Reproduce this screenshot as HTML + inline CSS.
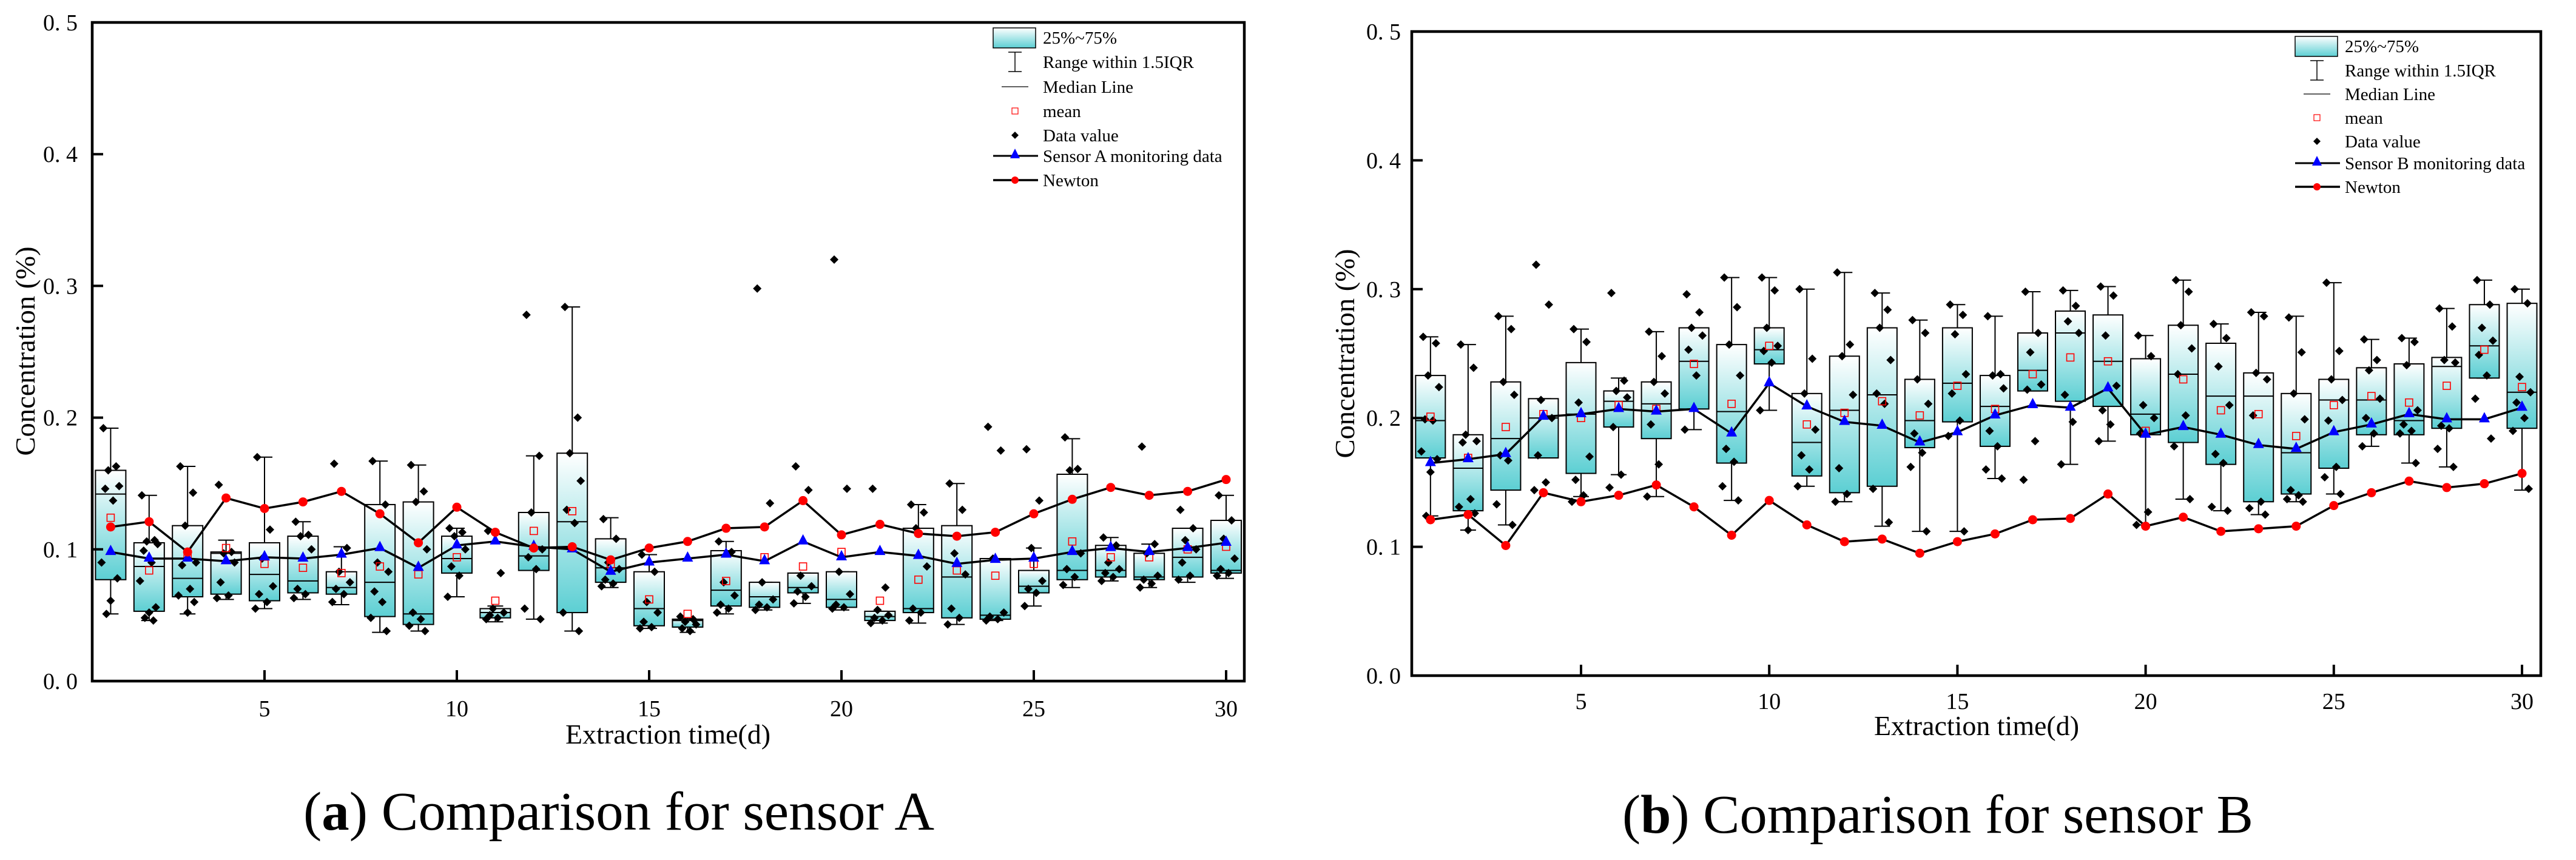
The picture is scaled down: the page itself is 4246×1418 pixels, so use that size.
<!DOCTYPE html>
<html><head><meta charset="utf-8"><style>
html,body{margin:0;padding:0;background:#fff;}
svg{display:block;}
text{font-family:"Liberation Serif",serif;fill:#000;}
</style></head><body>
<svg id="fig" width="4246" height="1418" viewBox="0 0 4246 1418" xmlns="http://www.w3.org/2000/svg">
<defs>
<linearGradient id="boxgrad" x1="0" y1="0" x2="0" y2="1">
<stop offset="0" stop-color="#ffffff"/><stop offset="1" stop-color="#5ccfd3"/>
</linearGradient>
</defs>
<g id="chartA"></g>
<g id="chartB"></g>
</svg>
<script>
// ---- Data: Sensor A chart ----
const days = [1,2,3,4,5,6,7,8,9,10,11,12,13,14,15,16,17,18,19,20,21,22,23,24,25,26,27,28,29,30];
const xTicks = [5,10,15,20,25,30];
const yTicks = [0,0.1,0.2,0.3,0.4,0.5];
const yTickLabels = ["0. 0","0. 1","0. 2","0. 3","0. 4","0. 5"];

const aQ1 = [.077,.053,.064,.066,.061,.067,.066,.049,.043,.082,.048,.084,.052,.075,.042,.041,.057,.056,.067,.056,.046,.052,.048,.047,.067,.077,.079,.077,.079,.082];
const aQ3 = [.160,.105,.118,.098,.105,.110,.083,.134,.136,.110,.055,.128,.173,.108,.083,.047,.099,.075,.082,.083,.053,.116,.118,.093,.084,.157,.103,.097,.116,.122];
const aMed = [.142,.087,.078,.097,.081,.076,.071,.075,.051,.093,.052,.095,.121,.086,.055,.046,.069,.064,.071,.062,.049,.055,.079,.050,.072,.084,.084,.079,.094,.084];
const aMean = [.124,.084,.096,.101,.089,.086,.082,.087,.081,.094,.061,.114,.129,.089,.062,.051,.076,.094,.087,.098,.061,.077,.084,.080,.089,.106,.094,.094,.100,.102];
const aLo = [.051,.046,.051,.062,.055,.062,.058,.037,.038,.064,.045,.047,.038,.071,.040,.037,.051,.054,.059,.054,.044,.044,.043,.046,.057,.071,.076,.071,.075,.078];
const aHi = [.192,.141,.163,.107,.170,.121,.102,.167,.164,.116,.057,.171,.284,.124,.096,.048,.106,.075,.082,.083,.053,.134,.150,.093,.101,.184,.109,.104,.116,.141];
const aSensor = [.098,.093,.093,.091,.094,.093,.096,.101,.086,.103,.106,.102,.100,.083,.090,.093,.096,.091,.106,.094,.098,.095,.089,.092,.093,.098,.101,.098,.101,.105];
const aNewton = [.117,.121,.098,.139,.131,.136,.144,.127,.105,.132,.113,.101,.102,.092,.101,.106,.116,.117,.137,.111,.119,.112,.110,.113,.127,.138,.147,.141,.144,.153];
const aPoints = [
[.192,.163,.160,.148,.146,.137,.090,.078,.061,.051],
[.141,.107,.106,.104,.099,.090,.076,.056,.052,.048,.046],
[.163,.143,.118,.090,.088,.070,.065,.060,.052],
[.149,.098,.097,.090,.075,.065,.063],
[.170,.115,.093,.072,.066,.060,.055],
[.121,.111,.110,.100,.070,.066,.063],
[.165,.101,.083,.075,.070,.066,.060],
[.167,.134,.090,.083,.068,.060,.048,.038],
[.164,.144,.136,.100,.052,.047,.042,.038],
[.116,.113,.110,.100,.087,.080,.064],
[.114,.082,.055,.052,.050,.048,.047],
[.278,.171,.128,.100,.094,.085,.055,.047],
[.284,.200,.173,.152,.130,.120,.052,.038],
[.123,.108,.090,.085,.077,.074,.072],
[.096,.083,.060,.052,.045,.041,.040],
[.049,.047,.045,.043,.040,.038],
[.106,.098,.075,.065,.058,.055,.052],
[.298,.135,.075,.062,.058,.056,.054],
[.163,.145,.080,.072,.068,.064,.059],
[.320,.146,.083,.066,.058,.056,.055],
[.146,.071,.054,.050,.048,.046,.044],
[.134,.128,.116,.087,.055,.052,.046],
[.150,.130,.097,.081,.055,.048,.043],
[.193,.175,.093,.052,.049,.047,.046],
[.176,.137,.101,.076,.070,.067,.057],
[.185,.161,.160,.097,.085,.079,.073],
[.109,.103,.090,.085,.082,.079,.076],
[.178,.104,.097,.080,.077,.074,.071],
[.130,.116,.107,.100,.090,.080,.077],
[.141,.122,.108,.093,.085,.082,.080]];

// ---- Data: Sensor B chart ----
const bQ1 = [.169,.128,.144,.169,.157,.193,.184,.207,.165,.242,.155,.142,.147,.177,.197,.178,.221,.213,.209,.187,.181,.164,.135,.141,.161,.187,.187,.192,.231,.192];
const bQ3 = [.233,.187,.228,.215,.243,.221,.228,.270,.257,.270,.219,.248,.270,.230,.270,.233,.266,.283,.280,.246,.272,.258,.235,.219,.230,.239,.242,.247,.288,.289];
const bMed = [.198,.161,.184,.200,.203,.213,.211,.244,.205,.253,.181,.206,.218,.198,.227,.209,.237,.266,.244,.203,.234,.217,.217,.173,.214,.214,.198,.240,.256,.220];
const bMean = [.201,.169,.193,.203,.200,.210,.207,.242,.211,.256,.195,.204,.213,.202,.225,.207,.234,.247,.244,.190,.230,.206,.203,.186,.210,.217,.212,.225,.253,.224];
const bLo = [.124,.113,.117,.169,.139,.156,.139,.191,.136,.206,.147,.135,.116,.112,.112,.153,.221,.164,.182,.117,.137,.128,.125,.135,.141,.178,.165,.162,.231,.144];
const bHi = [.263,.257,.279,.215,.269,.231,.267,.270,.309,.309,.300,.313,.297,.276,.288,.279,.298,.299,.302,.264,.307,.273,.282,.279,.305,.261,.262,.285,.307,.300];
const bSensor = [.165,.168,.172,.201,.203,.207,.205,.207,.188,.227,.209,.197,.194,.181,.189,.202,.210,.208,.223,.187,.193,.187,.179,.176,.189,.195,.203,.199,.199,.208];
const bNewton = [.121,.125,.101,.142,.135,.140,.148,.131,.109,.136,.117,.104,.106,.095,.104,.110,.121,.122,.141,.116,.123,.112,.114,.116,.132,.142,.151,.146,.149,.157];
const bPoints = [
[.263,.258,.233,.224,.199,.198,.174,.168,.158,.124],
[.257,.239,.187,.182,.181,.137,.131,.126,.113],
[.279,.269,.228,.218,.171,.167,.133,.117],
[.319,.288,.214,.200,.171,.150,.144],
[.269,.259,.212,.170,.152,.140,.135],
[.297,.229,.221,.216,.193,.156,.146],
[.267,.248,.228,.219,.195,.164,.139],
[.296,.282,.270,.264,.253,.233,.191],
[.309,.286,.257,.233,.176,.166,.147,.136],
[.309,.299,.270,.256,.252,.243,.206],
[.300,.246,.219,.191,.171,.160,.147],
[.313,.257,.248,.218,.161,.141,.135],
[.297,.284,.270,.245,.219,.211,.145,.119],
[.276,.266,.230,.211,.188,.173,.162,.112],
[.288,.280,.265,.234,.219,.198,.186,.112],
[.279,.234,.233,.223,.190,.178,.160,.153],
[.298,.266,.251,.226,.222,.182,.152],
[.299,.287,.275,.266,.218,.197,.164],
[.302,.295,.264,.225,.206,.195,.182],
[.264,.248,.210,.200,.188,.127,.117],
[.307,.298,.272,.254,.234,.202,.178,.137],
[.273,.262,.240,.210,.172,.165,.131,.128],
[.282,.279,.235,.230,.202,.135,.130,.125],
[.278,.251,.219,.199,.144,.140,.137,.135],
[.305,.252,.230,.214,.198,.162,.154,.141],
[.261,.245,.237,.215,.200,.188,.178],
[.262,.259,.241,.206,.195,.190,.188,.165],
[.285,.271,.245,.243,.194,.192,.176,.162],
[.307,.288,.270,.260,.249,.233,.215,.184],
[.300,.289,.232,.220,.212,.200,.190,.145]];

const NS = "http://www.w3.org/2000/svg";
function mk(parent, tag, attrs, txt){
  const e = document.createElementNS(NS, tag);
  for (const k in attrs) e.setAttribute(k, attrs[k]);
  if (txt !== undefined) e.textContent = txt;
  parent.appendChild(e);
  return e;
}
const jitter = [-12,9,-4,14,-9,4,-15,11,0,-7,7];

function drawChart(g, cfg, D){
  const L=cfg.left, R=cfg.right, T=cfg.top, B=cfg.bottom;
  const xs = d => cfg.x5 + (d-5)*cfg.dx;
  const ys = v => B - v/0.5*(B-T);
  const bw = cfg.bw;
  // boxes
  for (let i=0;i<days.length;i++){
    const cx = xs(days[i]);
    const bg = mk(g,'g',{});
    
    
    mk(bg,'line',{x1:cx,x2:cx,y1:ys(D.hi[i]),y2:ys(D.q3[i]),stroke:'#000','stroke-width':2});
    mk(bg,'line',{x1:cx,x2:cx,y1:ys(D.q1[i]),y2:ys(D.lo[i]),stroke:'#000','stroke-width':2});
    mk(bg,'line',{x1:cx-13,x2:cx+13,y1:ys(D.hi[i]),y2:ys(D.hi[i]),stroke:'#000','stroke-width':2});
    mk(bg,'line',{x1:cx-13,x2:cx+13,y1:ys(D.lo[i]),y2:ys(D.lo[i]),stroke:'#000','stroke-width':2});
    mk(bg,'rect',{x:cx-bw/2,y:ys(D.q3[i]),width:bw,height:Math.max(1,ys(D.q1[i])-ys(D.q3[i])),fill:'url(#boxgrad)',stroke:'#000','stroke-width':2});
    mk(bg,'line',{x1:cx-bw/2,x2:cx+bw/2,y1:ys(D.med[i]),y2:ys(D.med[i]),stroke:'#000','stroke-width':2});
  }
  // data points
  for (let i=0;i<days.length;i++){
    const cx = xs(days[i]);
    D.pts[i].forEach((v,j)=>{
      const px = cx + jitter[j%jitter.length], py = ys(v);
      const p = mk(g,'polygon',{points:`${px},${py-7} ${px+7},${py} ${px},${py+7} ${px-7},${py}`,fill:'#000'});
      
      
    });
  }
  // means
  for (let i=0;i<days.length;i++){
    const m = mk(g,'rect',{x:xs(days[i])-6,y:ys(D.mean[i])-6,width:12,height:12,fill:'none',stroke:'#f00','stroke-width':1.6});
    
    
  }
  // sensor line
  const sp = days.map((d,i)=>xs(d)+','+ys(D.sensor[i])).join(' ');
  const sl = mk(g,'polyline',{points:sp,fill:'none',stroke:'#000','stroke-width':3.5});
  
  
  const np = days.map((d,i)=>xs(d)+','+ys(D.newton[i])).join(' ');
  const nl = mk(g,'polyline',{points:np,fill:'none',stroke:'#000','stroke-width':3.5});
  
  
  for (let i=0;i<days.length;i++){
    const x=xs(days[i]), y=ys(D.sensor[i]);
    const t = mk(g,'polygon',{points:`${x},${y-12} ${x+9},${y+5} ${x-9},${y+5}`,fill:'#0000ff'});
    
    
    const c = mk(g,'circle',{cx:x,cy:ys(D.newton[i]),r:7.5,fill:'#ff0000'});
    
    
  }
  // frame
  const fr = mk(g,'rect',{x:L,y:T,width:R-L,height:B-T,fill:'none',stroke:'#000','stroke-width':4.5});
  
  
  // y ticks
  yTicks.forEach((v,i)=>{
    mk(g,'line',{x1:L,x2:L+18,y1:ys(v),y2:ys(v),stroke:'#000','stroke-width':4});
    const t = mk(g,'text',{x:cfg.ylabR,y:ys(v)+13,'font-size':38,'text-anchor':'end'},yTickLabels[i]);
    
    
  });
  xTicks.forEach(d=>{
    mk(g,'line',{x1:xs(d),x2:xs(d),y1:B,y2:B-18,stroke:'#000','stroke-width':4});
    const t = mk(g,'text',{x:xs(d),y:cfg.xlabY+13,'font-size':38,'text-anchor':'middle'},String(d));
    
    
  });
  const xt = mk(g,'text',{x:cfg.xtitleX,y:cfg.xtitleY+16,'font-size':46,'text-anchor':'middle',textLength:338,lengthAdjust:'spacingAndGlyphs'},'Extraction time(d)');
  
  
  const yt = mk(g,'text',{x:0,y:0,'font-size':46,'text-anchor':'middle',textLength:345,lengthAdjust:'spacingAndGlyphs',transform:`translate(${cfg.ytitleX+16},${cfg.ytitleY}) rotate(-90)`},'Concentration (%)');
  
  
  // legend
  const lg = mk(g,'g',{});
  
  
  const lx = cfg.legX, rows = cfg.legRows, ic = lx+36;
  mk(lg,'rect',{x:lx,y:rows[0]-16,width:70,height:33,fill:'url(#boxgrad)',stroke:'#000','stroke-width':1.5});
  mk(lg,'line',{x1:ic,x2:ic,y1:rows[1]-16,y2:rows[1]+16,stroke:'#000','stroke-width':1.5});
  mk(lg,'line',{x1:ic-11,x2:ic+11,y1:rows[1]-16,y2:rows[1]-16,stroke:'#000','stroke-width':1.5});
  mk(lg,'line',{x1:ic-11,x2:ic+11,y1:rows[1]+16,y2:rows[1]+16,stroke:'#000','stroke-width':1.5});
  mk(lg,'line',{x1:ic-22,x2:ic+22,y1:rows[2],y2:rows[2],stroke:'#000','stroke-width':1.2});
  mk(lg,'rect',{x:ic-5,y:rows[3]-5,width:10,height:10,fill:'none',stroke:'#f00','stroke-width':1.2});
  mk(lg,'polygon',{points:`${ic},${rows[4]-6} ${ic+6},${rows[4]} ${ic},${rows[4]+6} ${ic-6},${rows[4]}`,fill:'#000'});
  mk(lg,'line',{x1:lx,x2:lx+74,y1:rows[5],y2:rows[5],stroke:'#000','stroke-width':3});
  mk(lg,'polygon',{points:`${ic},${rows[5]-12} ${ic+8},${rows[5]+4} ${ic-8},${rows[5]+4}`,fill:'#0000ff'});
  mk(lg,'line',{x1:lx,x2:lx+74,y1:rows[6],y2:rows[6],stroke:'#000','stroke-width':3.5});
  mk(lg,'circle',{cx:ic,cy:rows[6],r:6,fill:'#f00'});
  const labels = ['25%~75%','Range within 1.5IQR','Median Line','mean','Data value',cfg.sensorLabel,'Newton'];
  labels.forEach((s,i)=>{
    const t = mk(lg,'text',{x:lx+82,y:rows[i]+10,'font-size':29},s);
    
    
  });
  // caption
  const cap = mk(g,'text',{x:cfg.capX,y:cfg.capY+30,'font-size':90,'text-anchor':'middle',textLength:cfg.capW,lengthAdjust:'spacingAndGlyphs'});
  
  
  mk(cap,'tspan',{},'(');
  mk(cap,'tspan',{'font-weight':'bold'},cfg.capLetter);
  mk(cap,'tspan',{},') '+cfg.capText);
}

drawChart(document.getElementById('chartA'),{
  left:152,right:2051,top:37,bottom:1123,x5:436,dx:63.4,bw:50,ylabR:128,xlabY:1168,
  xtitleX:1101,xtitleY:1210,ytitleX:41,ytitleY:579,legX:1637,legRows:[62,102,143,183,223,257,297],
  sensorLabel:'Sensor A monitoring data',capX:1020,capY:1338,capW:1040,capLetter:'a',capText:'Comparison for sensor A'
},{q1:aQ1,q3:aQ3,med:aMed,mean:aMean,lo:aLo,hi:aHi,sensor:aSensor,newton:aNewton,pts:aPoints});

drawChart(document.getElementById('chartB'),{
  left:2327,right:4188,top:52,bottom:1114,x5:2606,dx:62.04,bw:49,ylabR:2309,xlabY:1156,
  xtitleX:3258,xtitleY:1196,ytitleX:2216,ytitleY:583,legX:3783,legRows:[76,116,155,194,233,269,308],
  sensorLabel:'Sensor B monitoring data',capX:3194,capY:1343,capW:1040,capLetter:'b',capText:'Comparison for sensor B'
},{q1:bQ1,q3:bQ3,med:bMed,mean:bMean,lo:bLo,hi:bHi,sensor:bSensor,newton:bNewton,pts:bPoints});
</script>
</body></html>
